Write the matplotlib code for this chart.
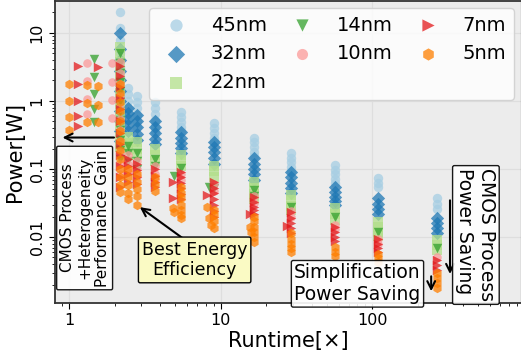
import numpy as np
import matplotlib
matplotlib.use("Agg")
import matplotlib.pyplot as plt
from matplotlib.ticker import FuncFormatter

# technology nodes and styles
nodes = ['45nm', '32nm', '22nm', '14nm', '10nm', '7nm', '5nm']
colors = ['#a6cee3', '#1f78b4', '#b2df8a', '#33a02c', '#fb9a99', '#e31a1c', '#ff7f00']
markers = ['o', 'D', 's', 'v', 'o', '>', 'h']

# runtime of each design column
runtime_cols = [2.16, 2.45, 2.8, 3.7, 5.5, 9.0, 16.5, 29, 57, 110, 268]

# power per column (one list per runtime column)
power_45nm = [
    [20, 12, 8, 5, 3.2, 2.1, 1.4, 0.95, 0.65],
    [1.55, 1.25, 1.0, 0.8, 0.64, 0.52],
    [1.2, 0.97, 0.78, 0.63, 0.51, 0.42],
    [0.95, 0.78, 0.64, 0.52, 0.43, 0.36],
    [0.69, 0.58, 0.49, 0.42, 0.36],
    [0.47, 0.4, 0.34, 0.29, 0.25],
    [0.29, 0.25, 0.21, 0.18, 0.155],
    [0.17, 0.145, 0.125, 0.107, 0.092],
    [0.115, 0.097, 0.083, 0.072, 0.062],
    [0.074, 0.063, 0.055],
    [0.037, 0.031, 0.026],
]
power_32nm = [
    [10, 5.8, 4.0, 2.8, 2.0, 1.4, 1.0, 0.7, 0.5, 0.36, 0.26],
    [0.8, 0.66, 0.54, 0.44, 0.36],
    [0.62, 0.5, 0.41, 0.33, 0.27],
    [0.5, 0.41, 0.34, 0.28, 0.23],
    [0.35, 0.29, 0.245, 0.205, 0.17],
    [0.25, 0.21, 0.175, 0.145, 0.12],
    [0.145, 0.12, 0.1, 0.083, 0.07],
    [0.09, 0.075, 0.063, 0.053, 0.044],
    [0.055, 0.046, 0.039, 0.034, 0.03],
    [0.037, 0.031, 0.026, 0.022],
    [0.019, 0.016, 0.0135, 0.0115],
]
power_22nm = [
    [6.2, 5.0, 3.8, 2.7, 1.9, 1.3, 0.9, 0.62, 0.43, 0.3, 0.21],
    [0.3, 0.24, 0.19],
    [0.25, 0.2, 0.16],
    [0.2, 0.16, 0.13],
    [0.16, 0.135, 0.11],
    [0.11, 0.092, 0.077],
    [0.065, 0.053, 0.043, 0.036],
    [0.042, 0.035, 0.029, 0.025],
    [0.027, 0.022, 0.018],
    [0.0166, 0.014, 0.012, 0.0105],
    [0.009, 0.0076, 0.0064],
]
power_14nm = [
    [5.0, 3.6, 2.6, 1.9, 1.4, 1.0, 0.72, 0.52, 0.37, 0.27, 0.19, 0.14],
    [0.22, 0.17, 0.13],
    [0.17, 0.13, 0.1],
    [0.14, 0.11],
    [0.105],
    [0.052],
    [0.049, 0.04],
    [0.028],
    [0.02],
    [0.012],
    [0.0068],
]
power_10nm = [
    [3.8, 2.6, 1.8, 1.2, 0.8, 0.55, 0.38, 0.26, 0.18, 0.12, 0.085],
    [0.16, 0.12, 0.09],
    [0.13, 0.1, 0.078],
    [0.11, 0.085, 0.068],
    [0.085, 0.07],
    [0.06, 0.048],
    [0.04, 0.032],
    [0.024, 0.02],
    [0.015, 0.013],
    [0.0095, 0.008],
    [0.005],
]
power_7nm = [
    [3.3, 2.3, 1.6, 1.1, 0.75, 0.5, 0.34, 0.23, 0.16, 0.11, 0.075, 0.055],
    [0.14, 0.11, 0.085, 0.065],
    [0.12, 0.095, 0.075, 0.06],
    [0.1, 0.08, 0.065, 0.054],
    [0.09, 0.075, 0.062, 0.052, 0.043, 0.036],
    [0.064, 0.053, 0.044, 0.036, 0.03, 0.024, 0.02],
    [0.039, 0.033, 0.028, 0.025, 0.022],
    [0.023, 0.019, 0.016, 0.0135, 0.0114],
    [0.014, 0.012, 0.0101, 0.0088],
    [0.0095, 0.008, 0.0069, 0.006],
    [0.0046, 0.0039, 0.0033],
]
power_5nm = [
    [1.8, 1.3, 0.95, 0.7, 0.5, 0.36, 0.26, 0.19, 0.14, 0.1, 0.075, 0.058, 0.046],
    [0.1, 0.075, 0.058, 0.045, 0.036],
    [0.085, 0.065, 0.05, 0.04, 0.03],
    [0.075, 0.06, 0.048],
    [0.055, 0.045, 0.037, 0.03, 0.025, 0.021, 0.019],
    [0.025, 0.021, 0.017, 0.0136],
    [0.02, 0.017, 0.014, 0.012, 0.01, 0.0085],
    [0.0114, 0.0095, 0.008, 0.0068, 0.006],
    [0.0071, 0.006, 0.0052],
    [0.0057, 0.0049, 0.0043],
    [0.003, 0.0025, 0.0021, 0.0018],
]

# scattered (heterogeneous) design points off the main columns
het_x = {
    '14nm': [1.46, 1.46, 1.46, 1.46, 1.46, 4.9, 8.4],
    '10nm': [1.31, 1.31, 1.31, 1.31, 1.92, 1.92, 1.92, 1.92],
    '7nm': [1.15, 1.15, 1.15, 1.15, 1.15, 1.55, 4.85, 4.85, 8.1, 15.6, 27.5],
    '5nm': [1.0, 1.0, 1.0, 1.0, 1.31, 1.31, 1.31, 1.55, 1.55, 1.55,
            4.85, 4.9, 8.1, 8.4, 8.7, 15.6, 15.8],
}
het_y = {
    '14nm': [4.1, 2.25, 1.27, 0.76, 0.49, 0.08, 0.054],
    '10nm': [3.6, 1.97, 1.07, 0.64, 3.6, 1.9, 1.03, 0.56],
    '7nm': [3.27, 1.78, 1.0, 0.6, 0.43, 3.15, 0.065, 0.038, 0.041, 0.022, 0.0145],
    '5nm': [1.78, 1.0, 0.58, 0.37, 1.72, 0.93, 0.49, 1.66, 0.87, 0.49,
            0.027, 0.023, 0.028, 0.019, 0.015, 0.014, 0.012],
}

powers = [power_45nm, power_32nm, power_22nm, power_14nm, power_10nm, power_7nm, power_5nm]

fig = plt.figure(figsize=(5.21, 3.52), dpi=100)
ax = fig.add_axes([55/521, 49/352, 466/521, 302/352])
ax.set_facecolor('#ececec')
ax.grid(True, which='major', color='#dedede', linewidth=0.9)
ax.set_axisbelow(True)

for node, col, mk, pw in zip(nodes, colors, markers, powers):
    xs, ys = [], []
    for rt, vals in zip(runtime_cols, pw):
        xs += [rt] * len(vals)
        ys += vals
    xs += het_x.get(node, [])
    ys += het_y.get(node, [])
    size = 38 if node == '10nm' else 46
    ax.scatter(xs, ys, s=size, c=col, marker=mk, alpha=0.75, linewidths=0, label=node)

ax.set_xscale('log')
ax.set_yscale('log')
ax.set_xlim(0.81, 958)
ax.set_ylim(0.00107, 29.5)

fmt = FuncFormatter(lambda v, p: '%g' % v)
ax.xaxis.set_major_formatter(fmt)
ax.yaxis.set_major_formatter(fmt)
ax.tick_params(axis='both', which='major', labelsize=11.5, length=4)
ax.tick_params(axis='y', labelrotation=90)
for lab in ax.get_yticklabels():
    lab.set_va('center')
for s in ['left', 'bottom', 'top']:
    ax.spines[s].set_color('#333333')
    ax.spines[s].set_linewidth(1.3)

ax.set_xlabel('Runtime[×]', fontsize=15, labelpad=2)
ax.set_ylabel('Power[W]', fontsize=15, labelpad=3)

ax.legend(ncol=3, fontsize=14, markerscale=1.3, loc='upper right',
          borderaxespad=0.35, columnspacing=0.8, handletextpad=0.8)

arrow = dict(arrowstyle='->', color='black', lw=1.5, mutation_scale=14)

# heterogeneity annotation
ax.annotate('', xy=(0.87, 0.29), xytext=(2.07, 0.29), arrowprops=arrow)
ax.text(1.27, 0.019, 'CMOS Process\n+Heterogeneity\nPerformance Gain', rotation=90,
        fontsize=11, ha='center', va='center', multialignment='center',
        bbox=dict(boxstyle='round,pad=0.2,rounding_size=0.1', fc='white', ec='black', alpha=0.9))

# best energy efficiency
ax.annotate('', xy=(2.84, 0.029), xytext=(6.4, 0.0078), arrowprops=arrow)
ax.text(6.75, 0.0046, 'Best Energy\nEfficiency', fontsize=12.5, ha='center', va='center',
        multialignment='center',
        bbox=dict(boxstyle='round,pad=0.2,rounding_size=0.1', fc='#fafac4', ec='black'))

# simplification power saving
ax.annotate('', xy=(245, 0.00145), xytext=(245, 0.0029), arrowprops=arrow)
ax.text(80, 0.00205, 'Simplification\nPower Saving', fontsize=13.5, ha='center', va='center',
        bbox=dict(boxstyle='round,pad=0.15,rounding_size=0.1', fc='white', ec='black', alpha=0.9))

# CMOS power saving
ax.annotate('', xy=(326, 0.0026), xytext=(326, 0.038), arrowprops=arrow)
ax.text(483, 0.0107, 'CMOS Process\nPower Saving', rotation=270, fontsize=13.5,
        ha='center', va='center', multialignment='left',
        bbox=dict(boxstyle='round,pad=0.15,rounding_size=0.1', fc='white', ec='black', alpha=0.9))

fig.savefig('out.png', dpi=100)
